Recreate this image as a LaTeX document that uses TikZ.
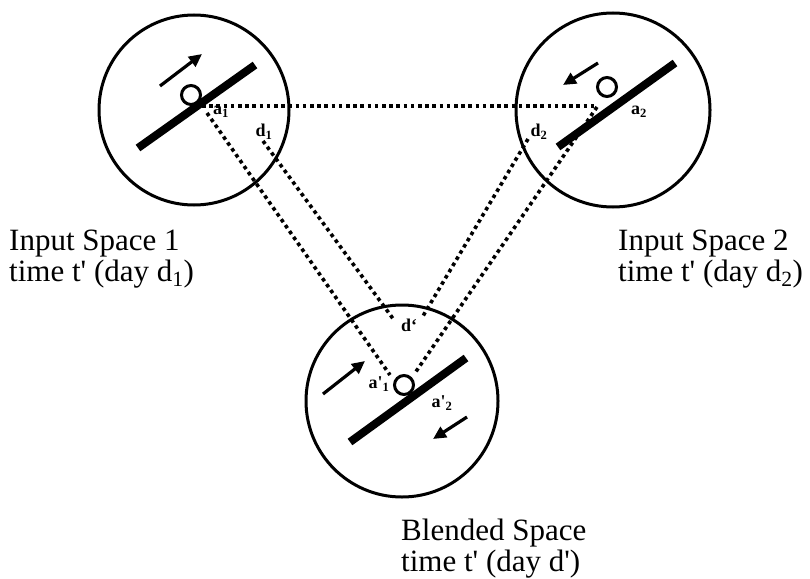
\documentclass[tikz,border=0pt]{standalone}
\usepackage{fontspec}
\setmainfont{Liberation Serif}
\usetikzlibrary{arrows.meta}
\begin{document}
\begin{tikzpicture}[x=1pt,y=-1pt,
  ring/.style={line width=3pt},
  bar/.style={line width=8pt},
  pivot/.style={circle, draw, line width=3pt, fill=white, minimum size=19pt, inner sep=0pt},
  motion/.style={line width=3.2pt, -{Triangle[length=13pt,width=12pt]}},
  dots/.style={line width=3.6pt, dash pattern=on 3.6pt off 3.6pt},
  lbl/.style={font=\fontsize{18}{18}\selectfont\bfseries, inner sep=0pt},
  captxt/.style={font=\fontsize{31}{32}\selectfont, inner sep=0pt, anchor=base west}]
\useasboundingbox (0,0) rectangle (810,578);

% end points of the dotted mapping lines
\coordinate (h1) at (202,106);
\coordinate (h2) at (597,106);
\coordinate (s1) at (207,113);
\coordinate (e1) at (390,375);
\coordinate (s2) at (263,141);
\coordinate (e2) at (394,320);
\coordinate (s3) at (597,107);
\coordinate (e3) at (415,373);
\coordinate (s4) at (528,139);
\coordinate (e4) at (423,316);

\draw[dots] (h1) -- (h2);
\draw[dots] (s1) -- (e1);
\draw[dots] (s2) -- (e2);
\draw[dots] (s3) -- (e3);
\draw[dots] (s4) -- (e4);

% circles
\draw[ring] (194,110) circle[radius=95];
\draw[ring] (613,110) circle[radius=97];
\draw[ring] (402,401) circle[radius=96];

% bars
\coordinate (b1a) at (138,148); \coordinate (b1b) at (255,65);
\coordinate (b2a) at (558,147); \coordinate (b2b) at (675,63);
\coordinate (b3a) at (350,442); \coordinate (b3b) at (466,358);
\draw[bar] (b1a) -- (b1b);
\draw[bar] (b2a) -- (b2b);
\draw[bar] (b3a) -- (b3b);

% pivots
\node[pivot] (p1) at (191,95) {};
\node[pivot] (p2) at (607,87) {};
\node[pivot] (p3) at (404,385) {};

% motion arrows
\coordinate (m1a) at (160,86);  \coordinate (m1b) at (202,54);
\coordinate (m2a) at (598,63);  \coordinate (m2b) at (563,85);
\coordinate (m3a) at (323,394); \coordinate (m3b) at (365,361);
\coordinate (m4a) at (467,417); \coordinate (m4b) at (433,439);
\draw[motion] (m1a) -- (m1b);
\draw[motion] (m2a) -- (m2b);
\draw[motion] (m3a) -- (m3b);
\draw[motion] (m4a) -- (m4b);

% small labels
\node[lbl] (la1) at (221,112) {a\textsubscript{1}};
\node[lbl] (ld1) at (264,132) {d\textsubscript{1}};
\node[lbl] (la2) at (639,112) {a\textsubscript{2}};
\node[lbl] (ld2) at (539,132) {d\textsubscript{2}};
\node[lbl] (ldp) at (409,325) {d‘};
\node[lbl] (lap1) at (379,384) {a\textquotesingle\textsubscript{1}};
\node[lbl] (lap2) at (442,403) {a\textquotesingle\textsubscript{2}};

% captions
\node[captxt] (c1a) at (9,250) {Input Space 1};
\node[captxt] (c1b) at (9,281) {time t\textquotesingle\ (day d\textsubscript{1})};
\node[captxt] (c2a) at (618,250) {Input Space 2};
\node[captxt] (c2b) at (618,281) {time t\textquotesingle\ (day d\textsubscript{2})};
\node[captxt] (c3a) at (401,540) {Blended Space};
\node[captxt] (c3b) at (401,571) {time t\textquotesingle\ (day d\textquotesingle)};
\end{tikzpicture}
\end{document}
